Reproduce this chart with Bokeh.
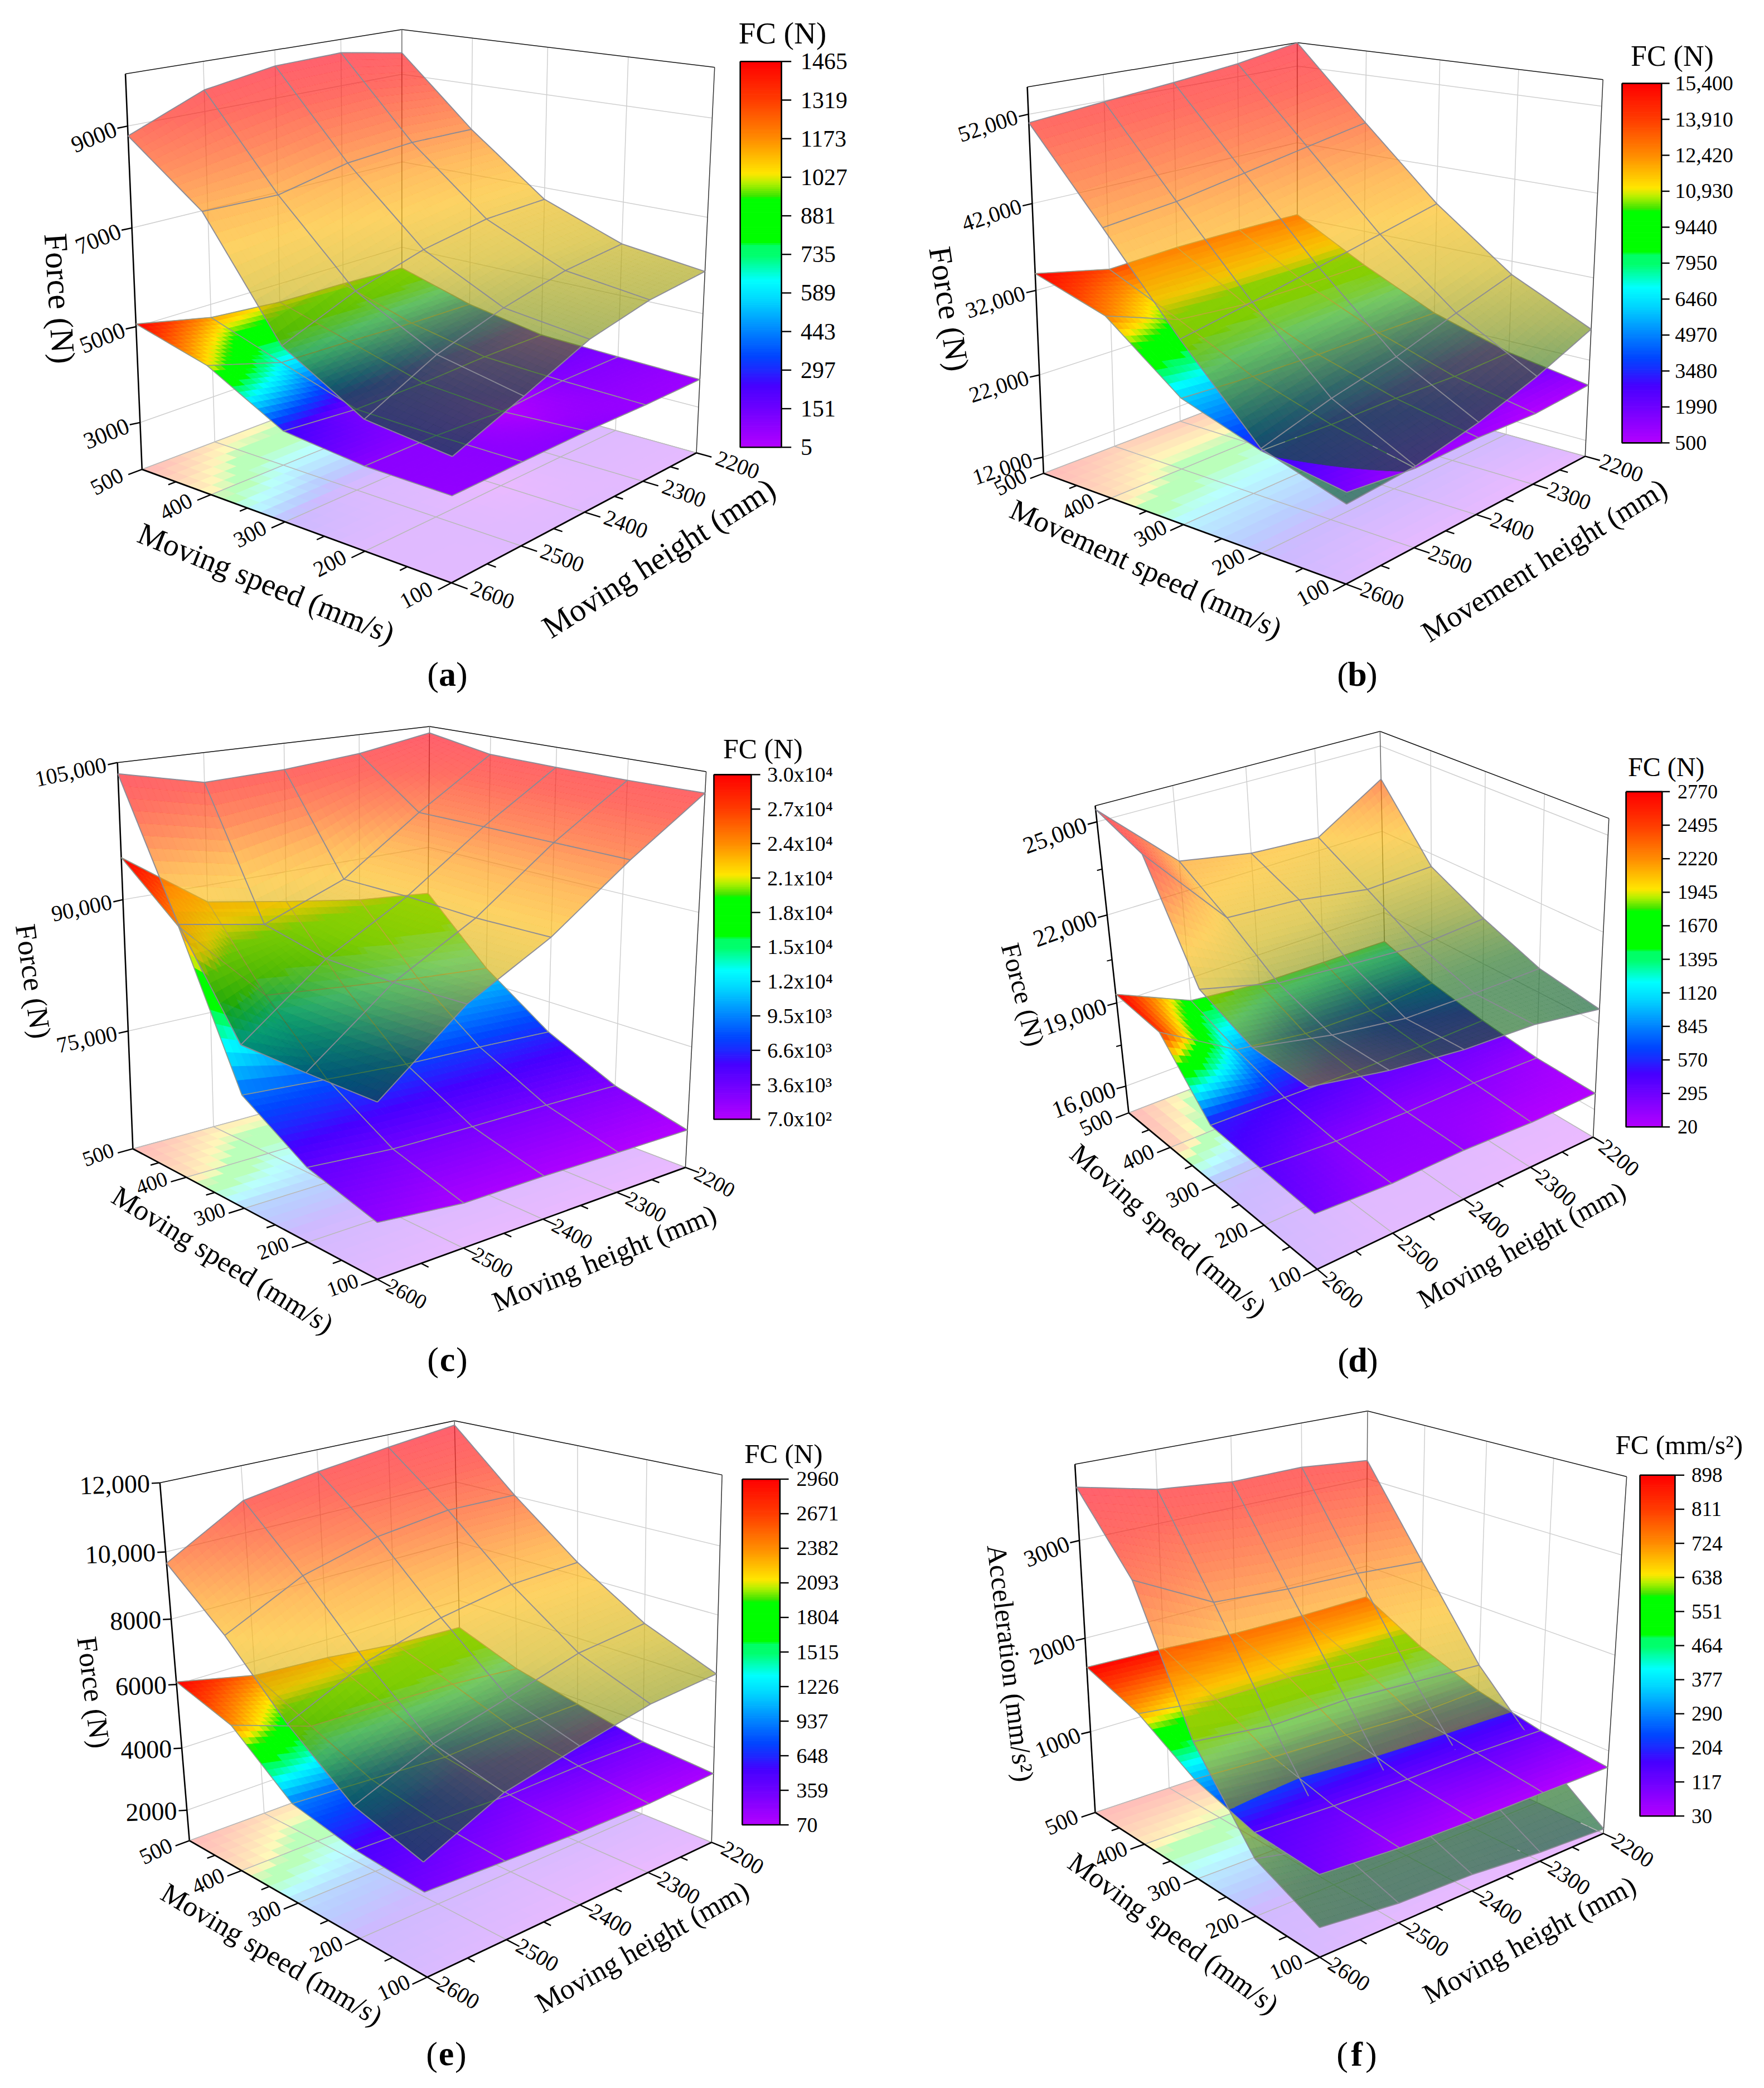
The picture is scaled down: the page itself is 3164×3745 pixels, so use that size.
import numpy as np
from bokeh.plotting import figure
from bokeh.embed import file_html
from bokeh.models import ColumnDataSource
from bokeh.resources import INLINE
from bokeh.core.properties import value, field

SPEED = [500, 400, 300, 200, 100]
HEIGHT = [2600, 2500, 2400, 2300, 2200]

FORCE_A = [[8810,9432,9670,9713,9483],[7646,7606,7911,8024,8007],[5456,6046,6453,6695,6749],[4522,5216,5651,5963,6111],[4336,4874,5439,5743,5884]]
FC_A = [[1465,1141,1018,989,930],[1060,623,571,497,464],[254,128,130,176,170],[92,88,5,100,105],[73,85,89,57,52]]
FORCE_B = [[51064,51879,52683,53612,54996],[41077,41938,43307,44673,46005],[30915,32411,34001,35652,37333],[21571,23917,25712,28162,30360],[18583,19128,20704,22958,25798]]
FC_B = [[15400,13598,13972,14002,13912],[12755,9817,9095,9066,9225],[6154,5648,5359,5283,5144],[3199,2831,2723,2353,2468],[1746,834,896,500,867]]
FORCE_C = [[103793,101683,101989,102752,104213],[89370,87594,91025,97269,102882],[78914,86038,91050,97270,102721],[78828,85911,90783,97219,102678],[78887,86222,90935,97183,102754]]
FC_C = [[30000,23387,21755,20287,19443],[24468,14876,13813,12822,12067],[8808,8075,7375,7060,6620],[4290,3467,3241,3100,2875],[2144,1091,1056,856,700]]
FORCE_D = [[25383,23046,22607,22463,23853],[24797,22048,21875,21479,21549],[21549,20883,20652,20460,20598],[20822,20277,19899,19838,19828],[20794,20312,20002,19874,19479]]
FC_D = [[2770,1659,1396,1361,1337],[2539,980,620,560,724],[527,462,380,340,367],[390,211,166,182,106],[281,123,133,24,20]]
FORCE_E = [[9666,10970,11331,11607,11858],[8162,9261,9832,10091,10035],[6328,7366,7981,8340,8416],[4842,5750,6312,6895,7112],[4224,5219,5681,6103,6249]]
FC_E = [[2960,2445,2305,2054,1954],[2399,1596,1522,1423,1218],[930,791,636,740,759],[515,424,330,360,311],[331,221,114,70,128]]
FORCE_F = [[3528,3350,3273,3277,3204],[2831,2414,2354,2328,2273],[1511,1422,1445,1399,1356],[681,509,539,591,675],[393,300,272,196,151]]
FC_F = [[898,875,831,824,840],[696,602,606,551,508],[338,297,272,239,271],[150,125,120,134,118],[111,58,39,36,30]]

CB_A = ["1465","1319","1173","1027","881","735","589","443","297","151","5"]
CB_B = ["15,400","13,910","12,420","10,930","9440","7950","6460","4970","3480","1990","500"]
CB_C = ["3.0x10⁴","2.7x10⁴","2.4x10⁴","2.1x10⁴","1.8x10⁴","1.5x10⁴","1.2x10⁴","9.5x10³","6.6x10³","3.6x10³","7.0x10²"]
CB_D = ["2770","2495","2220","1945","1670","1395","1120","845","570","295","20"]
CB_E = ["2960","2671","2382","2093","1804","1515","1226","937","648","359","70"]
CB_F = ["898","811","724","638","551","464","377","290","204","117","30"]

Z_TICKS_A = [9000,7000,5000,3000]
Z_TICKS_B = [52000,42000,32000,22000,12000]
Z_TICKS_C = [105000,90000,75000]
Z_TICKS_D = [25000,22000,19000,16000]
Z_TICKS_E = [12000,10000,8000,6000,4000,2000]
Z_TICKS_F = [3000,2000,1000]

def fmt_comma(v): return f"{v:,}"
def fmt_e(v): return f"{v:,}" if v >= 10000 else str(v)
def fmt_plain(v): return str(v)

# rainbow scale of the colour bars, (position, r, g, b)
RAINBOW = [(0,180,0,255),(.10,110,0,255),(.16,70,0,255),(.20,30,40,255),(.238,0,70,255),(.31,0,140,255),(.382,0,215,255),(.432,0,255,255),
           (.497,0,255,110),(.525,0,255,100),(.53,0,255,0),(.645,0,255,0),(.652,60,230,0),(.685,180,240,0),(.71,255,230,0),(.74,255,200,0),(.80,255,140,0),(.90,255,60,0),(1,255,0,0)]
# scale of the translucent force surface
WARM = [(0,0,85,37),(.10,22,105,20),(.22,125,142,8),(.35,205,175,5),(.5,252,183,5),(.6,255,150,0),(.75,255,70,0),(.87,255,21,5),(1,255,0,21)]
WARM_ALPHA = 0.62
FLOOR_ALPHA = 0.27

def cmap(stops, t):
    a = np.array(stops, float)
    t = np.clip(t, 0, 1)
    return np.array([np.interp(t, a[:,0], a[:,k]) for k in (1,2,3)])

def hexc(c):
    return "#%02x%02x%02x" % tuple(int(round(min(255,max(0,x)))) for x in c)

PANELS = [
 dict(name='a', ox=150, oy=0, kx=1568/1450, ky=1568/1230, zr=(2000,10000), fcr=(5,1465), base=3549, gain=1.033,
   force=FORCE_A, fc=FC_A, cb=CB_A, zt=Z_TICKS_A, zfmt=fmt_plain,
   L0=(113,1072),F0=(713,1332),R0=(1188,1035),L1=(80,168),B1=(617,67),R1=(1223,153),
   cal={9000:(85,288),7000:(93,520),5000:(103,748),3000:(107,965)},
   tz=(-20,5), zang=22, zfs=42, sp_off=(-68,28), ht_off=(80,28), tickfs=40,
   cbx=(1273,1353,1372,1390), cby=(140,1022), cbfs=42, fct=(1355,75), fcfs=55, fctxt="FC (N)",
   sp=("Moving speed (mm/s)",8.83,(108,1215),(600,1450)), ht=("Moving height (mm)",8.39,(895,1440),(1335,1110)),
   zl=("Force (N)",3.92,(99,418),(114,652)), lab=(802,1208)),
 dict(name='b', ox=1650, oy=0, kx=1568/1500, ky=1568/1230, zr=(10000,55000), fcr=(500,15400), base=18541, gain=1.035,
   force=FORCE_B, fc=FC_B, cb=CB_B, zt=Z_TICKS_B, zfmt=fmt_comma,
   L0=(230,1080),F0=(797,1335),R0=(1248,1042),L1=(198,195),B1=(706,97),R1=(1280,182),
   cal={52000:(205,262),42000:(212,465),32000:(218,665),22000:(225,858),12000:(229,1045)},
   tz=(-18,5), zang=18, zfs=40, sp_off=(-62,20), ht_off=(68,27), tickfs=40,
   cbx=(1316,1390,1405,1415), cby=(190,1012), cbfs=38, fct=(1410,128), fcfs=52, fctxt="FC (N)",
   sp=("Movement speed (mm/s)",10.0,(172,1160),(675,1440)), ht=("Movement height (mm)",9.56,(945,1450),(1395,1110)),
   zl=("Force (N)",3.92,(1685,442),(1719,665)), lab=(2434,1208)),
 dict(name='c', ox=0, oy=1260, kx=1568/1500, ky=1568/1210, zr=(61000,105000), fcr=(700,30000), base=65405, gain=0.999,
   force=FORCE_C, fc=FC_C, cb=CB_C, zt=Z_TICKS_C, zfmt=fmt_comma,
   L0=(248,1035),F0=(707,1340),R0=(1285,1080),L1=(220,138),B1=(805,55),R1=(1323,160),
   cal={90000:(230,458),75000:(240,765)},
   tz=(-18,5), zang=12, zfs=40, sp_off=(-65,14), ht_off=(55,34), tickfs=38,
   cbx=(1338,1408,1425,1438), cby=(167,968), cbfs=38, fct=(1430,107), fcfs=50, fctxt="FC (N)",
   sp=("Moving speed (mm/s)",8.83,(215,1140),(620,1450)), ht=("Moving height (mm)",8.39,(925,1395),(1340,1185)),
   zl=("Force (N)",3.92,(45,1657),(74,1862)), lab=(802,2437)),
 dict(name='d', ox=1700, oy=1300, kx=1568/1450, ky=1568/1170, zr=(15000,25500), fcr=(20,2770), base=16580, gain=0.991,
   force=FORCE_D, fc=FC_D, cb=CB_D, zt=Z_TICKS_D, zfmt=fmt_comma, zminor=[23500,20500,17500],
   L0=(350,930),F0=(715,1308),R0=(1252,990),L1=(285,193),B1=(837,15),R1=(1282,225),
   cal={25000:(290,233),22000:(308,455),19000:(328,670),16000:(345,870)},
   tz=(-18,6), zang=20, zfs=43, sp_off=(-63,24), ht_off=(50,50), tickfs=40,
   cbx=(1315,1385,1400,1415), cby=(160,966), cbfs=36, fct=(1393,100), fcfs=48, fctxt="FC (N)",
   sp=("Moving speed (mm/s)",8.83,(245,1020),(610,1410)), ht=("Moving height (mm)",8.39,(915,1385),(1310,1115)),
   zl=("Force (N)",3.92,(1811,1692),(1858,1875)), lab=(2435,2438)),
 dict(name='e', ox=150, oy=2500, kx=1568/1450, ky=1568/1245, zr=(1000,12000), fcr=(70,2960), base=3130, gain=1.021,
   force=FORCE_E, fc=FC_E, cb=CB_E, zt=Z_TICKS_E, zfmt=fmt_e,
   L0=(205,1008),F0=(665,1317),R0=(1218,1012),L1=(147,198),B1=(718,60),R1=(1238,183),
   cal={10000:(160,358),8000:(170,510),6000:(178,655),4000:(190,798),2000:(200,942)},
   tz=(-16,1), zang=2, zfs=46, sp_off=(-65,24), ht_off=(60,35), tickfs=40,
   cbx=(1277,1350,1367,1382), cby=(192,973), cbfs=38, fct=(1357,135), fcfs=49, fctxt="FC (N)",
   sp=("Moving speed (mm/s)",8.83,(155,1120),(575,1410)), ht=("Moving height (mm)",8.39,(880,1380),(1285,1115)),
   zl=("Force (N)",3.92,(155,2935),(180,3135)), lab=(800,3683)),
 dict(name='f', ox=1700, oy=2500, kx=1568/1450, ky=1568/1245, zr=(100,3750), fcr=(30,898), base=824, gain=1.003,
   force=FORCE_F, fc=FC_F, cb=CB_F, zt=Z_TICKS_F, zfmt=fmt_plain,
   L0=(285,943),F0=(720,1272),R0=(1272,992),L1=(247,157),B1=(813,38),R1=(1316,187),
   cal={3000:(255,330),2000:(265,553),1000:(277,765)},
   tz=(-18,5), zang=22, zfs=42, sp_off=(-65,22), ht_off=(57,38), tickfs=40,
   cbx=(1342,1410,1428,1442), cby=(183,953), cbfs=37, fct=(1418,115), fcfs=49, fctxt="FC (mm/s²)",
   sp=("Moving speed (mm/s)",8.83,(240,1050),(635,1385)), ht=("Moving height (mm)",8.39,(925,1360),(1330,1105)),
   zl=("Acceleration (mm/s²)",8.55,(1787,2770),(1837,3195)), lab=(2433,3683)),
]

p = figure(width=3148, height=3729, x_range=(0,3148), y_range=(3729,0), toolbar_location=None,
           output_backend="svg", min_border=0, outline_line_color=None, background_fill_color="white")
p.axis.visible = False
p.grid.visible = False

FONT = value("Liberation Serif")
T = dict(x=[],y=[],text=[],angle=[],size=[],align=[],base=[],style=[])
def put(x,y,s,ang=0,size=40,align="center",base="middle",style="normal"):
    T['x'].append(float(x));T['y'].append(float(y));T['text'].append(s);T['angle'].append(float(np.radians(ang)))
    T['size'].append(f"{size:.1f}px");T['align'].append(align);T['base'].append(base);T['style'].append(style)

def camera(cfg):
    zmin,zmax = cfg['zr']
    pts=[((1,1,0),cfg['L0']),((0,1,0),cfg['F0']),((0,0,0),cfg['R0']),((1,1,1),cfg['L1']),((1,0,1),cfg['B1']),((0,0,1),cfg['R1'])]
    for k,xy in cfg['cal'].items():
        pts.append(((1,1,(k-zmin)/(zmax-zmin)),xy))
    A=[]
    for (u,v,w),(x,y) in pts:
        x/=1000;y/=1000
        A.append([u,v,w,1,0,0,0,0,-x*u,-x*v,-x*w,-x])
        A.append([0,0,0,0,u,v,w,1,-y*u,-y*v,-y*w,-y])
    _,_,Vt=np.linalg.svd(np.array(A))
    return Vt[-1].reshape(3,4)

def clip_poly(pts, vals, sign):
    out=[]
    n=len(pts)
    for i in range(n):
        p0,p1=pts[i],pts[(i+1)%n]
        v0,v1=vals[i]*sign,vals[(i+1)%n]*sign
        if v0>=0: out.append(p0)
        if (v0>=0)!=(v1>=0):
            s=v0/(v0-v1)
            out.append((p0[0]+(p1[0]-p0[0])*s,p0[1]+(p1[1]-p0[1])*s))
    return out

def build(cfg):
    P = camera(cfg)
    ox,oy,kx,ky = cfg['ox'],cfg['oy'],cfg['kx'],cfg['ky']
    zmin,zmax = cfg['zr']
    def proj(u,v,w):
        X=np.stack([np.asarray(u,float),np.asarray(v,float),np.asarray(w,float),np.ones_like(np.asarray(u,float))],axis=-1)
        h=X@P.T
        return ox+1000*h[...,0]/h[...,2]/kx, oy+1000*h[...,1]/h[...,2]/ky
    def zpt(pt): return ox+pt[0]/kx, oy+pt[1]/ky
    def wz(z): return (np.asarray(z,float)-zmin)/(zmax-zmin)
    e=1e-3; c=np.array([.5,.5,.5])
    c0=np.array(proj(*c))
    J=np.stack([(np.array(proj(*(c+e*np.eye(3)[k])))-c0)/e for k in range(3)],axis=1)
    d=np.cross(J[0],J[1]); d=d/np.linalg.norm(d)
    if d[2]>0: d=-d
    def depth(u,v,w): return d[0]*u+d[1]*v+d[2]*w

    F=np.array(cfg['force'],float)
    FC=np.array(cfg['fc'],float)
    lo,hi=cfg['fcr']
    Wz=wz(cfg['base']+(FC-lo)*cfg['gain'])
    Uz=wz(F)
    t_fc=(FC-lo)/(hi-lo)
    fmin,fmax=F.min(),F.max()
    def sample(G,a,b):
        a=np.asarray(a,float);b=np.asarray(b,float)
        ia=np.minimum(a.astype(int),3); ib=np.minimum(b.astype(int),3)
        fa=a-ia; fb=b-ib
        return (G[ia,ib]*(1-fa)*(1-fb)+G[ia+1,ib]*fa*(1-fb)+G[ia,ib+1]*(1-fa)*fb+G[ia+1,ib+1]*fa*fb)
    items=[]
    def add_poly(pts, zfun, colfun, fa, la, lw):
        a=np.array([q[0] for q in pts]);b=np.array([q[1] for q in pts])
        Zl=zfun(a,b)
        X,Y=proj(1-a/4,1-b/4,Zl)
        ac,bc=a.mean(),b.mean()
        h=hexc(colfun(ac,bc))
        items.append((depth(1-ac/4,1-bc/4,float(zfun(ac,bc))),X.tolist(),Y.tolist(),h,fa,h,la,lw))
    def surface(N, zfun, colfun, fa, la, lw, other=None):
        g=np.linspace(0,4,4*N+1)
        for i in range(4*N):
            for j in range(4*N):
                pts=[(g[i],g[j]),(g[i+1],g[j]),(g[i+1],g[j+1]),(g[i],g[j+1])]
                if other is None:
                    add_poly(pts,zfun,colfun,fa,la,lw); continue
                vals=[float(zfun(*q)-other(*q)) for q in pts]
                if min(vals)>=0 or max(vals)<=0:
                    add_poly(pts,zfun,colfun,fa,la,lw)
                else:
                    for sgn in (1,-1):
                        part=clip_poly(pts,vals,sgn)
                        if len(part)>=3:
                            add_poly(part,zfun,colfun,fa,la,lw)
    def mesh(N, zfun, col, la, lw, bias):
        M=4*N+1
        g=np.linspace(0,4,M)
        for k in range(5):
            for (a,b) in ((np.full(M,float(k)),g),(g,np.full(M,float(k)))):
                Zl=zfun(a,b)
                X,Y=proj(1-a/4,1-b/4,Zl)
                for s in range(M-1):
                    dd=depth(1-(a[s]+a[s+1])/8,1-(b[s]+b[s+1])/8,(Zl[s]+Zl[s+1])/2)-bias
                    items.append((dd,[X[s],X[s+1]],[Y[s],Y[s+1]],"#ffffff",0.0,col,la,lw))
    zfl=lambda a,b: np.zeros_like(np.asarray(a,float))
    zlo=lambda a,b: sample(Wz,a,b)
    zup=lambda a,b: sample(Uz,a,b)
    white=np.array([255.,255.,255.])
    surface(6,zfl,lambda a,b: cmap(RAINBOW,sample(t_fc,a,b))*FLOOR_ALPHA+white*(1-FLOOR_ALPHA),1.0,1.0,1.0)
    surface(12,zlo,lambda a,b: cmap(RAINBOW,sample(t_fc,a,b)),1.0,1.0,1.0,other=zup)
    surface(12,zup,lambda a,b: cmap(WARM,(sample(F,a,b)-fmin)/(fmax-fmin)),WARM_ALPHA,0.10,1.0,other=zlo)
    mesh(3,zfl,"#b9b9b9",1.0,1.6,0.06)
    mesh(6,zlo,"#8e9a8e",0.95,1.8,0.04)
    mesh(6,zup,"#8a8a96",0.95,2.0,0.05)
    items.sort(key=lambda r:-r[0])

    wx=[];wy=[];wc=[];ww=[]
    def seg(a,b,col="#cfcfcf",lw=1.5,n=2):
        s=np.linspace(0,1,n)
        a=np.array(a,float);b=np.array(b,float)
        x,y=proj(a[0]+(b[0]-a[0])*s,a[1]+(b[1]-a[1])*s,a[2]+(b[2]-a[2])*s)
        wx.append(list(map(float,x)));wy.append(list(map(float,y)));wc.append(col);ww.append(lw)
    for z in cfg['zt']:
        w=float(wz(z))
        seg((1,1,w),(1,0,w)); seg((1,0,w),(0,0,w))
    for f in (.25,.5,.75):
        seg((1,f,0),(1,f,1)); seg((f,0,0),(f,0,1))
    seg((1,1,1),(1,0,1),"#111111",1.5); seg((1,0,1),(0,0,1),"#111111",1.5)
    seg((1,0,0),(1,0,1),"#666666",1.5); seg((0,0,0),(0,0,1),"#333333",1.5)
    seg((1,1,0),(1,0,0),"#bbbbbb",1.5); seg((1,0,0),(0,0,0),"#bbbbbb",1.5)
    seg((1,1,0),(1,1,1),"#000000",2.6)
    p.multi_line(list(wx),list(wy),line_color=list(wc),line_width=list(ww))

    src=ColumnDataSource(dict(xs=[list(map(float,r[1])) for r in items],ys=[list(map(float,r[2])) for r in items],
        fc=[r[3] for r in items],fa=[r[4] for r in items],lc=[r[5] for r in items],la=[r[6] for r in items],lw=[r[7] for r in items]))
    p.patches('xs','ys',source=src,fill_color='fc',fill_alpha='fa',line_color='lc',line_alpha='la',line_width='lw')

    wx.clear();wy.clear();wc.clear();ww.clear()
    seg((1,1,0),(0,1,0),"#000000",2.8); seg((0,1,0),(0,0,0),"#000000",2.8)
    for q in np.arange(0,1.001,.125):
        major=abs((q*4)-round(q*4))<1e-6
        L=.045 if major else .025
        seg((q,1,0),(q,1+L,0),"#000000",2.4)
        seg((0,q,0),(-L,q,0),"#000000",2.4)
    for z in cfg['zt']:
        a,b=proj(1,1,float(wz(z)))
        wx.append([float(a),float(a)+cfg['tz'][0]/kx]);wy.append([float(b),float(b)+cfg['tz'][1]/ky]);wc.append("#000000");ww.append(2.4)
        put(float(a)+cfg['tz'][0]/kx-3,float(b)+cfg['tz'][1]/ky,cfg['zfmt'](z),cfg['zang'],cfg['zfs'],"right")
    for z in cfg.get('zminor',[]):
        a,b=proj(1,1,float(wz(z)))
        wx.append([float(a),float(a)+.55*cfg['tz'][0]/kx]);wy.append([float(b),float(b)+.55*cfg['tz'][1]/ky]);wc.append("#000000");ww.append(2.0)
    p.multi_line(list(wx),list(wy),line_color=list(wc),line_width=list(ww))
    x0,y0=proj(1,1,0);x1,y1=proj(0,1,0);x2,y2=proj(0,0,0)
    ang_s=float(np.degrees(np.arctan2(-(y1-y0),x1-x0)))
    ang_h=float(np.degrees(np.arctan2(-(y2-y1),x2-x1)))
    for s in SPEED:
        u=(s-100)/400
        a,b=proj(u,1,0)
        put(float(a)+cfg['sp_off'][0]/kx,float(b)+cfg['sp_off'][1]/ky,str(s),ang_h,cfg['tickfs'])
    for h in HEIGHT:
        v=(h-2200)/400
        a,b=proj(0,v,0)
        put(float(a)+cfg['ht_off'][0]/kx,float(b)+cfg['ht_off'][1]/ky,str(h),ang_s,cfg['tickfs'])
    for key in ('sp','ht'):
        s,em,pa,pb=cfg[key]
        ax,ay=zpt(pa);bx,by=zpt(pb)
        L=np.hypot(bx-ax,by-ay)
        put((ax+bx)/2,(ay+by)/2,s,np.degrees(np.arctan2(-(by-ay),bx-ax)),L/em)
    s,em,pa,pb=cfg['zl']
    L=np.hypot(pb[0]-pa[0],pb[1]-pa[1])
    put((pa[0]+pb[0])/2,(pa[1]+pb[1])/2,s,np.degrees(np.arctan2(-(pb[1]-pa[1]),pb[0]-pa[0])),L/em)
    xl,xr,xt,xlab=[ox+q/kx for q in cfg['cbx']]
    yt,yb=[oy+q/ky for q in cfg['cby']]
    n=200
    edges=np.linspace(0,1,n+1)
    tops=yb+(yt-yb)*edges[1:];bots=yb+(yt-yb)*edges[:-1]
    cols=[hexc(cmap(RAINBOW,(edges[i]+edges[i+1])/2)) for i in range(n)]
    p.quad(left=[xl]*n,right=[xr]*n,top=list(tops),bottom=list(bots),fill_color=cols,line_color=cols,line_width=1)
    mx=[[xl,xr,xr,xl,xl]];my=[[yt,yt,yb,yb,yt]];cw=[2.6]
    labels=cfg['cb']
    for i,lab in enumerate(labels):
        y=yt+(yb-yt)*i/(len(labels)-1)
        mx.append([xr,xt]);my.append([y,y]);cw.append(2.4)
        put(xlab,y,lab,0,cfg['cbfs'],"left")
    p.multi_line(mx,my,line_color="#000000",line_width=cw)
    put(ox+cfg['fct'][0]/kx,oy+cfg['fct'][1]/ky,cfg['fctxt'],0,cfg['fcfs'])
    lx,ly=cfg['lab']
    put(lx-.417*62,ly,"(",0,62); put(lx,ly,cfg['name'],0,62,style="bold"); put(lx+.417*62,ly,")",0,62)

for cfg in PANELS:
    build(cfg)

tsrc=ColumnDataSource(T)
p.text(x='x',y='y',text='text',angle='angle',source=tsrc,text_font=FONT,text_font_size=field('size'),
       text_align=field('align'),text_baseline=field('base'),text_font_style=field('style'),text_color="#000000")

open("out.html","w").write(file_html(p,INLINE))
